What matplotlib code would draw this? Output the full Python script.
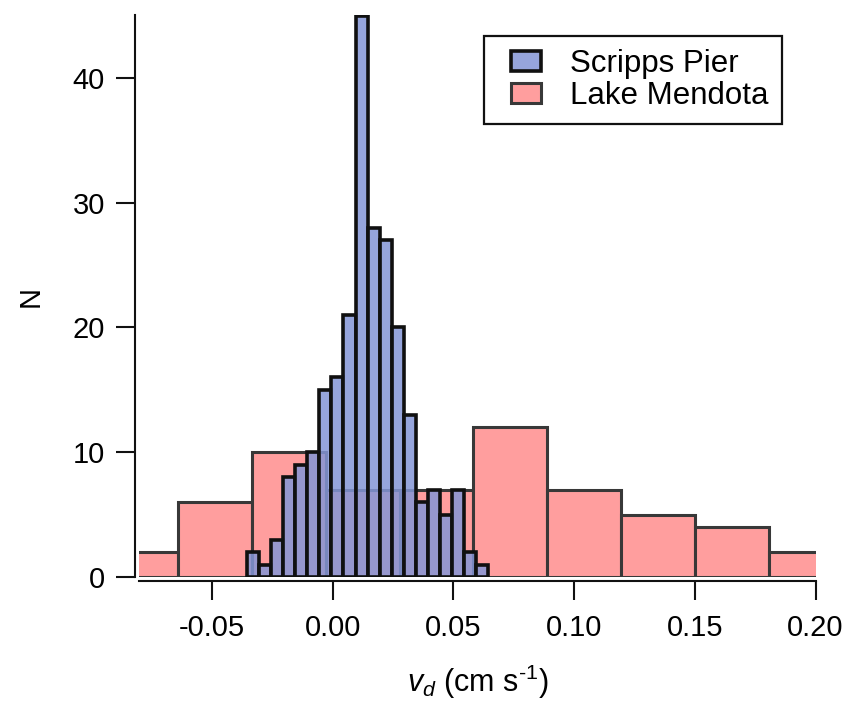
import numpy as np
import matplotlib
matplotlib.use("Agg")
import matplotlib.pyplot as plt
from matplotlib.patches import Rectangle
from matplotlib.container import BarContainer
from matplotlib.legend_handler import HandlerPatch, update_from_first_child

plt.rcParams['font.family'] = ['Liberation Sans', 'DejaVu Sans']
plt.rcParams['mathtext.fontset'] = 'custom'
plt.rcParams['mathtext.rm'] = 'Liberation Sans'
plt.rcParams['mathtext.it'] = 'Liberation Sans:italic'

# ---- data ----
series_names = ["Scripps Pier", "Lake Mendota"]

scripps_bin_start = -0.0355
scripps_bin_width = 0.005
scripps_counts = [2, 1, 3, 8, 9, 10, 15, 16, 21, 45, 28, 27, 20, 13, 6, 7, 5, 7, 2, 1]

mendota_bin_start = -0.0947
mendota_bin_width = 0.0306
mendota_counts = [2, 6, 10, 7, 7, 12, 7, 5, 4, 2]

x_ticks = [-0.05, 0.00, 0.05, 0.10, 0.15, 0.20]
x_tick_labels = ["-0.05", "0.00", "0.05", "0.10", "0.15", "0.20"]
y_ticks = [0, 10, 20, 30, 40]

# ---- figure ----
W, H = 852, 706
fig = plt.figure(figsize=(W / 100, H / 100), dpi=100)
left, right, top, bottom = 139, 815.5, 15, 577
ax = fig.add_axes([left / W, 1 - bottom / H, (right - left) / W, (bottom - top) / H])

red_face = '#FF9E9E'
red_edge = '#383838'
blue_face = (132 / 255, 150 / 255, 214 / 255, 0.85)
blue_edge = '#101010'

m_lefts = mendota_bin_start + mendota_bin_width * np.arange(len(mendota_counts))
ax.bar(m_lefts, mendota_counts, width=mendota_bin_width, align='edge',
       facecolor=red_face, edgecolor=red_edge, linewidth=2.2, label=series_names[1], zorder=2)

s_lefts = scripps_bin_start + scripps_bin_width * np.arange(len(scripps_counts))
ax.bar(s_lefts, scripps_counts, width=scripps_bin_width, align='edge',
       facecolor=blue_face, edgecolor=blue_edge, linewidth=2.6, label=series_names[0], zorder=3)

ax.set_xlim(-0.0802, 0.20)
ax.set_ylim(0, 45.05)

for s in ['top', 'right']:
    ax.spines[s].set_visible(False)
for s in ['left', 'bottom']:
    ax.spines[s].set_position(('outward', 3))
    ax.spines[s].set_linewidth(1.5)
    ax.spines[s].set_color('#111111')

ax.set_xticks(x_ticks)
ax.set_xticklabels(x_tick_labels)
ax.set_yticks(y_ticks)
ax.tick_params(axis='both', which='major', direction='out', length=13.5, width=1.5,
               labelsize=21, color='#111111')
ax.tick_params(axis='x', pad=10)
ax.tick_params(axis='y', pad=8)

ax.set_ylabel("N", fontsize=21, labelpad=20)
ax.set_xlabel(r"$v_d$ (cm s$^{\text{-1}}$)", fontsize=22, labelpad=15)


def small_patch(legend, orig_handle, xdescent, ydescent, width, height, fontsize):
    pw = 30.0 * 72 / 100  # points
    return Rectangle((-xdescent + width - pw, -ydescent), pw, height)


handles, labels = ax.get_legend_handles_labels()
order = [1, 0]
leg = ax.legend([handles[i] for i in order], [labels[i] for i in order],
                loc='upper right', bbox_to_anchor=(782 / W, 1 - 36 / H),
                bbox_transform=fig.transFigure, fontsize=22.5, frameon=True,
                framealpha=1.0, fancybox=False, shadow=False, borderaxespad=0,
                borderpad=0.42, handlelength=1.4, handleheight=0.6,
                handletextpad=0.95, labelspacing=0.05,
                handler_map={BarContainer: HandlerPatch(patch_func=small_patch,
                                                        update_func=update_from_first_child)})
leg.get_frame().set_edgecolor('#111111')
leg.get_frame().set_linewidth(1.6)

fig.savefig("out.png", dpi=100)
